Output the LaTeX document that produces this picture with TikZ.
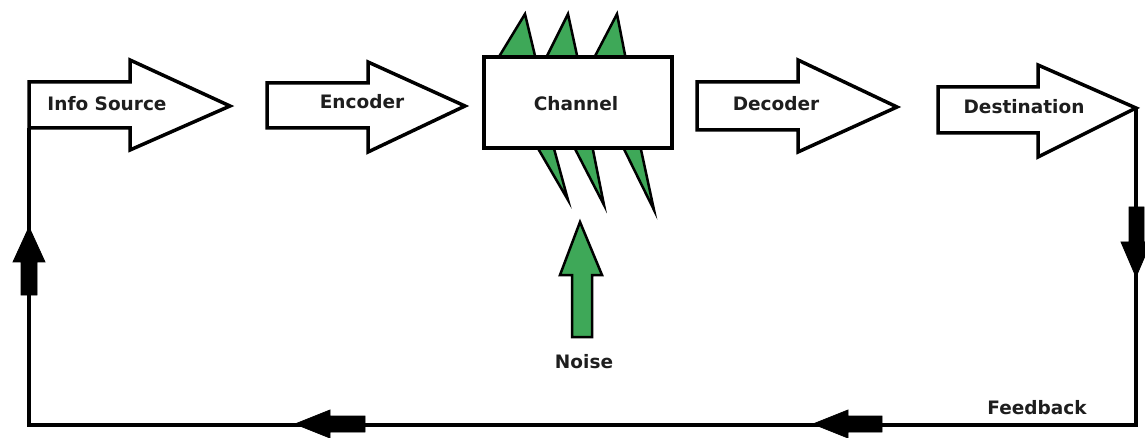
\documentclass[tikz,border=0pt]{standalone}
\usepackage{fontspec}
\setmainfont{DejaVu Sans}
\definecolor{noisegreen}{RGB}{62,168,88}
\definecolor{txt}{RGB}{30,30,30}
\tikzset{
  blockarrow/.style={draw=black, line width=3.5pt, fill=white, line join=miter},
  spike/.style={draw=black, line width=2.5pt, fill=noisegreen, line join=miter},
  lbl/.style={font=\bfseries\fontsize{18.5}{21}\selectfont, text=txt, inner sep=0pt},
  loopline/.style={draw=black, line width=3.5pt, line join=miter},
  smallarrow/.style={fill=black, draw=black, line width=0.8pt, line join=miter},
}
\begin{document}
\begin{tikzpicture}[x=1pt,y=-1pt]
\useasboundingbox (0,0) rectangle (1145,438);
% feedback loop
\coordinate (dtip) at (1136,108);
\coordinate (br) at (1136,425);
\coordinate (bl) at (29,425);
\coordinate (itail) at (29,128);
\draw[loopline] (dtip) -- (br) -- (bl) -- (itail);
% info source arrow
\draw[blockarrow] (29,82) -- (130,82) -- (130,60) -- (230,106) -- (130,150) -- (130,128) -- (29,128) -- cycle;
\node[lbl] (info) at (107,104) {Info Source};
% encoder
\draw[blockarrow] (267,83) -- (368,83) -- (368,62) -- (465,106) -- (368,152) -- (368,128) -- (267,128) -- cycle;
\node[lbl] (enc) at (362,102) {Encoder};
% lightning spikes
\draw[spike] (497,60) -- (525,14) -- (536,60) -- cycle;
\draw[spike] (545,60) -- (568,14) -- (578,60) -- cycle;
\draw[spike] (593,60) -- (617,14) -- (626,60) -- cycle;
\draw[spike] (536,145) -- (568,200) -- (553,145) -- cycle;
\draw[spike] (573,145) -- (604,205) -- (592,145) -- cycle;
\draw[spike] (622,145) -- (654,210) -- (640,145) -- cycle;
% channel
\draw[blockarrow] (484,57) rectangle (672,148);
\node[lbl] (chan) at (576,104) {Channel};
% decoder
\draw[blockarrow] (697,82) -- (798,82) -- (798,60) -- (897,107) -- (798,152) -- (798,130) -- (697,130) -- cycle;
\node[lbl] (dec) at (776,104) {Decoder};
% destination
\draw[blockarrow] (938,87) -- (1038,87) -- (1038,65) -- (1136,108) -- (1038,157) -- (1038,133) -- (938,133) -- cycle;
\node[lbl] (dest) at (1024,107) {Destination};
% noise arrow
\draw[spike] (580,222) -- (602,275) -- (592,275) -- (592,337) -- (572,337) -- (572,275) -- (560,275) -- cycle;
\node[lbl] (noise) at (584,362) {Noise};
% direction arrows on loop
\draw[smallarrow] (29,227) -- (45,262) -- (37,262) -- (37,295) -- (21,295) -- (21,262) -- (13,262) -- cycle;
\draw[smallarrow] (1136,277) -- (1121,242) -- (1129,242) -- (1129,207) -- (1144,207) -- (1144,242) -- (1151,242) -- cycle;
\draw[smallarrow] (295,424) -- (330,410) -- (330,416) -- (365,416) -- (365,432) -- (330,432) -- (330,438) -- cycle;
\draw[smallarrow] (813,424) -- (848,410) -- (848,416) -- (882,416) -- (882,432) -- (848,432) -- (848,438) -- cycle;
\node[lbl] (fb) at (1037,408) {Feedback};
\end{tikzpicture}
\end{document}
